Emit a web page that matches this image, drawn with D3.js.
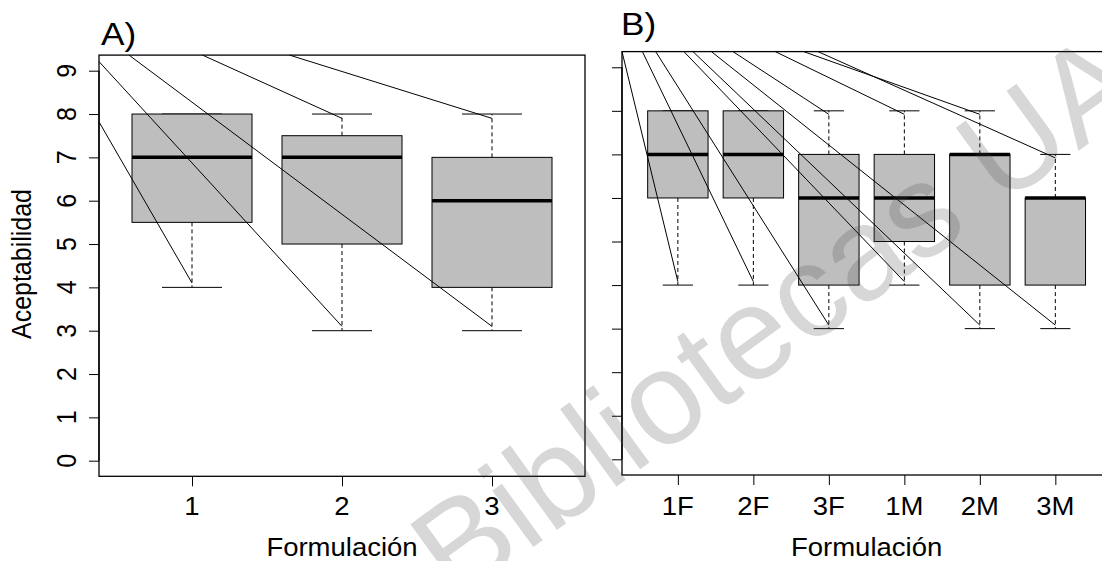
<!DOCTYPE html>
<html>
<head>
<meta charset="utf-8">
<script src="https://cdn.jsdelivr.net/npm/d3@7"></script>
<style>
  html, body { margin: 0; padding: 0; background: #fff; }
  svg { display: block; }
  text { font-family: "Liberation Sans", Arial, Helvetica, sans-serif; fill: #000; }
</style>
</head>
<body>
<svg id="chart" width="1102" height="561"></svg>
<script>
// ---------------- data ----------------
const yTicks = [0, 1, 2, 3, 4, 5, 6, 7, 8, 9];

// Panel A
const catsA  = ["1", "2", "3"];
const lowA   = [4, 3, 3];
const q1A    = [5.5, 5, 4];
const medA   = [7, 7, 6];
const q3A    = [8, 7.5, 7];
const highA  = [8, 8, 8];

// Panel B
const catsB  = ["1F", "2F", "3F", "1M", "2M", "3M"];
const lowB   = [4, 4, 3, 4, 3, 3];
const q1B    = [6, 6, 4, 5, 4, 4];
const medB   = [7, 7, 6, 6, 7, 6];
const q3B    = [8, 8, 7, 7, 7, 6];
const highB  = [8, 8, 8, 8, 8, 7];

// leader lines (data units): start x, start y, target category index (1-based), target whisker
const leadStartXA = [0.38, 0.38, 0.58, 1.07, 1.65];
const leadStartYA = [7.82, 9.21, 9.36, 9.36, 9.36];
const leadCatA    = [1, 2, 3, 2, 3];
const leadEndA    = ["low", "low", "low", "high", "high"];

const leadStartXB = [0.26, 0.53, 0.706, 1.08, 1.20, 1.444, 1.73, 2.29, 2.666, 2.856];
const leadStartYB = [9.36, 9.36, 9.36, 9.36, 9.36, 9.36, 9.36, 9.36, 9.36, 9.36];
const leadCatB    = [1, 2, 3, 4, 5, 6, 3, 4, 5, 6];
const leadEndB    = ["low", "low", "low", "low", "low", "low", "high", "high", "high", "high"];

// ---------------- layout ----------------
const svg = d3.select("#chart");
const SX = 1.1;      // horizontal text stretch of the reference
const FS = 25;       // base font size

function hText(g, x, y, str, size, anchor) {
  return g.append("text")
    .attr("transform", `translate(${x},${y}) scale(${SX},1)`)
    .attr("text-anchor", anchor || "middle")
    .style("font-size", size + "px")
    .text(str);
}
function vText(g, x, y, str, size) {
  return g.append("text")
    .attr("transform", `translate(${x},${y}) scale(${SX},1) rotate(-90)`)
    .attr("text-anchor", "middle")
    .style("font-size", size + "px")
    .text(str);
}

function panel(opts) {
  const { cats, low, q1, med, q3, high, xRange, yRange, xDomain,
          lsx, lsy, lcat, lend, endOff, title, titleX, titleY, yLabels } = opts;
  const g = svg.append("g");
  const x = d3.scaleLinear().domain(xDomain).range(xRange);
  const y = d3.scaleLinear().domain([-0.36, 9.36]).range(yRange);
  const step = x(2) - x(1);
  const bw = 0.8 * step;
  const idx = d3.range(cats.length);

  idx.forEach(i => {
    const cx = x(i + 1);
    if (q1[i] > low[i]) {
      g.append("line").attr("x1", cx).attr("x2", cx)
        .attr("y1", y(q1[i])).attr("y2", y(low[i]))
        .attr("stroke", "#000").attr("stroke-width", 1).attr("stroke-dasharray", "4,3");
    }
    if (high[i] > q3[i]) {
      g.append("line").attr("x1", cx).attr("x2", cx)
        .attr("y1", y(q3[i])).attr("y2", y(high[i]))
        .attr("stroke", "#000").attr("stroke-width", 1).attr("stroke-dasharray", "4,3");
    }
    [low[i], high[i]].forEach(v => {
      g.append("line").attr("x1", cx - bw / 4).attr("x2", cx + bw / 4)
        .attr("y1", y(v)).attr("y2", y(v))
        .attr("stroke", "#000").attr("stroke-width", 1);
    });
    g.append("rect").attr("x", cx - bw / 2).attr("width", bw)
      .attr("y", y(q3[i])).attr("height", y(q1[i]) - y(q3[i]))
      .attr("fill", "#bebebe").attr("stroke", "#000").attr("stroke-width", 1);
    g.append("line").attr("x1", cx - bw / 2).attr("x2", cx + bw / 2)
      .attr("y1", y(med[i])).attr("y2", y(med[i]))
      .attr("stroke", "#000").attr("stroke-width", 3.5);
  });

  lsx.forEach((sx, k) => {
    const c = lcat[k] - 1;
    const ev = lend[k] === "low" ? low[c] + endOff : high[c] - endOff;
    g.append("line")
      .attr("x1", x(sx)).attr("y1", y(lsy[k]))
      .attr("x2", x(lcat[k])).attr("y2", y(ev))
      .attr("stroke", "#000").attr("stroke-width", 1);
  });

  g.append("rect")
    .attr("x", xRange[0]).attr("y", yRange[1])
    .attr("width", xRange[1] - xRange[0]).attr("height", yRange[0] - yRange[1])
    .attr("fill", "none").attr("stroke", "#000").attr("stroke-width", 1.3);

  const ya = g.append("g").attr("transform", `translate(${xRange[0]},0)`)
    .call(d3.axisLeft(y).tickValues(yTicks).tickSize(10).tickFormat(""));
  ya.select(".domain").attr("d", `M0,${y(0)}V${y(9)}`).attr("stroke-width", 1.3);
  ya.selectAll(".tick line").attr("stroke-width", 1);
  if (yLabels) {
    yTicks.forEach(t => vText(g, xRange[0] - 23, y(t), String(t), FS));
  }

  const xa = g.append("g").attr("transform", `translate(0,${yRange[0]})`)
    .call(d3.axisBottom(x).tickValues(idx.map(i => i + 1)).tickSize(10).tickFormat(""));
  xa.select(".domain").remove();
  xa.selectAll(".tick line").attr("stroke-width", 1);
  idx.forEach(i => hText(g, x(i + 1), 515, cats[i], FS));

  hText(g, (xRange[0] + xRange[1]) / 2, 556, "Formulación", FS);
  hText(g, titleX, titleY, title, 32, "start");
  return g;
}

panel({
  cats: catsA, low: lowA, q1: q1A, med: medA, q3: q3A, high: highA,
  xDomain: [0.38, 3.62], xRange: [99, 585], yRange: [476.3, 55.1],
  lsx: leadStartXA, lsy: leadStartYA, lcat: leadCatA, lend: leadEndA, endOff: 0.1,
  title: "A)", titleX: 101, titleY: 45, yLabels: true
});

panel({
  cats: catsB, low: lowB, q1: q1B, med: medB, q3: q3B, high: highB,
  xDomain: [0.26, 6.74], xRange: [622, 1111.2], yRange: [475, 51.6],
  lsx: leadStartXB, lsy: leadStartYB, lcat: leadCatB, lend: leadEndB, endOff: 0.08,
  title: "B)", titleX: 621, titleY: 35, yLabels: false
});

vText(svg, 31, 264, "Aceptabilidad", FS);

// watermark
svg.append("text")
  .attr("transform", "translate(455,604) rotate(-36)")
  .attr("text-anchor", "start")
  .style("font-size", "132px")
  .style("fill", "#4b4b4b")
  .style("fill-opacity", 0.22)
  .text("Bibliotecas UA");
</script>
</body>
</html>
